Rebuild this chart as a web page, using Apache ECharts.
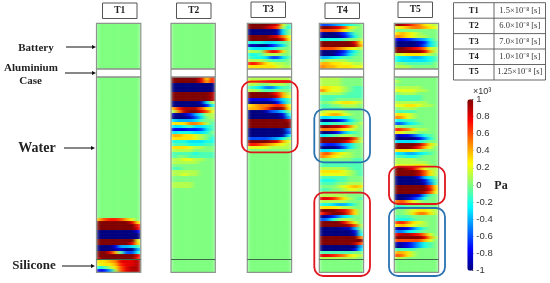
<!DOCTYPE html>
<html><head><meta charset="utf-8">
<style>html,body{margin:0;padding:0;background:#fff}#c{width:550px;height:283px}
canvas[data-zr-dom-id="zr_0"]{filter:url(#soft)}
canvas[data-zr-dom-id="zr_1"]{filter:blur(.35px)}</style>
<script src="https://cdn.jsdelivr.net/npm/echarts@6/dist/echarts.min.js"></script></head>
<body>
<svg width="0" height="0" style="position:absolute"><filter id="soft" x="0" y="0" width="100%" height="100%" color-interpolation-filters="sRGB"><feGaussianBlur stdDeviation="2.2 0.7"/></filter></svg>
<div id="c"></div>
<script>
const panelNames=['T1','T2','T3','T4','T5'];
const tableTimes=['1.5×10⁻⁸ [s]','6.0×10⁻⁸ [s]','7.0×10⁻⁸ [s]','1.0×10⁻⁸ [s]','1.25×10⁻⁸ [s]'];
const columns=[0,1,2,3,4,5,6,7];
const rowCount=83;
const gapRows=[15,16,17];
// each entry: row index, then pressure in tenths of 10^3 Pa across the panel
const t1Rows=[
[65,4,6,7,7,6,4,2,0],[66,10,10,10,10,10,10,8,3],[67,10,10,10,10,10,10,10,7],[68,10,10,10,10,10,10,10,8],
[69,-10,-10,-10,-10,-10,-10,-10,-8],[70,-10,-10,-10,-10,-10,-10,-10,-10],[71,-10,-10,-10,-10,-10,-10,-10,-10],
[72,10,10,10,10,10,10,10,2],[73,10,10,10,10,10,10,8,3],[74,-10,-10,-10,-8,-4,-4,-3,-1],[75,-10,-10,-10,-9,-8,-10,-10,-4],
[76,10,10,8,4,-1,-6,-6,-2],[77,10,10,10,10,10,10,10,8],[78,9,10,10,10,10,10,10,7],
[79,3,3,4,5,8,8,8,9],[80,2,3,3,4,7,8,8,9],[81,-2,-1,1,3,6,8,9,9],[82,-8,-7,-4,1,6,8,9,9]];
const t2Rows=[
[18,10,10,10,10,10,8,3,7],[19,10,10,10,10,10,8,4,7],[20,-10,-10,-10,-10,-10,-10,-10,-10],[21,-10,-10,-10,-10,-10,-10,-10,-10],[22,-10,-10,-10,-10,-10,-10,-10,-10],
[23,10,10,10,10,10,10,10,9],[24,10,10,10,10,10,10,10,9],[25,10,10,10,10,10,10,10,9],[26,-10,-10,-10,-10,-10,-9,-3,1],[27,-10,-10,-10,-10,-10,-10,-7,-2],
[28,4,7,9,9,9,6,3,1],[29,1,5,9,10,10,8,6,2],[30,-9,-10,-9,-7,-4,-2,1,1],[31,-10,-10,-10,-9,-6,-3,0,1],[32,-3,-4,-4,-4,-3,-1,0,0],
[33,3,3,3,5,5,4,1,-1],[34,-3,-3,-2,-1,-3,-3,-2,-1],[35,-8,-8,-8,-7,-7,-6,-3,-1],[36,-3,-2,-2,-2,-3,-3,-2,0],[37,4,4,3,3,2,1,0,-1],[38,3,3,3,3,2,1,0,-2],
[39,-2,-2,-2,-3,-3,-3,-2,-2],[40,-1,-1,-1,-2,-2,-2,-1,-1],[41,3,3,3,2,1,1,0,0],[42,1,1,1,1,0,0,0,0],[43,-1,-1,-1,-1,-2,-1,-1,-1],[44,-1,0,0,-1,-1,-1,-1,-1],
[45,1,1,2,2,1,1,0,0],[46,1,1,1,1,1,0,0,0],[48,-1,-1,0,0,0,0,0,0],[49,1,1,1,1,1,0,0,0],[50,1,1,2,1,1,0,0,0],[53,1,1,1,1,0,0,0,0],[54,1,1,1,1,0,0,0,0]];
const t3Rows=[
[0,10,10,10,10,9,8,2,-1],[1,10,10,10,9,8,6,1,-2],[2,-10,-10,-10,-10,-10,-9,-3,0],[3,-10,-10,-10,-10,-10,-9,-3,0],[4,10,10,10,10,9,8,5,2],[5,10,10,10,10,10,10,8,3],
[6,-2,-2,-2,-3,-3,-2,-1,0],[7,-9,-9,-10,-10,-7,-5,-3,0],[8,-2,-3,-3,-3,-2,-1,0,0],[9,1,1,0,5,8,7,3,0],[10,-2,-2,-1,1,1,1,0,0],[11,-1,-2,-2,-3,-6,-6,-3,-1],
[12,1,1,1,0,-1,-1,-1,0],[13,7,7,5,3,2,1,1,0],[14,3,3,3,3,3,2,1,1],
[18,1,1,1,1,1,1,1,1],[19,4,4,5,6,7,7,7,7],[20,1,1,0,0,1,1,1,0],[21,-1,-2,-3,-5,-5,-3,-1,-1],[22,1,1,0,-1,-1,0,0,0],[23,10,10,10,10,9,7,4,1],[24,10,10,10,10,10,8,4,2],
[25,-8,-8,-8,-8,-7,-5,-3,-1],[26,-10,-10,-10,-10,-10,-8,-4,-1],[27,3,4,5,5,6,7,6,2],[28,4,4,5,6,9,10,9,3],[29,-10,-10,-10,-9,-6,-5,-3,0],[30,-10,-10,-10,-10,-10,-10,-8,-2],
[31,-10,-10,-10,-10,-10,-10,-9,-4],[32,10,10,10,10,10,10,10,9],[33,10,10,10,10,10,10,10,10],[34,10,10,10,10,10,10,10,10],[35,-10,-10,-10,-10,-10,-10,-10,-5],[36,-10,-10,-10,-10,-10,-10,-10,-6],
[37,-10,-10,-10,-10,-10,-10,-9,-3],[38,-6,-6,-6,-6,-5,-4,-2,0],[39,10,10,10,10,9,8,4,2],[40,7,7,6,5,4,3,2,1],[41,2,2,2,2,1,1,1,1]];
const t4Rows=[
[0,-6,-6,-5,-4,-3,-2,-1,0],[1,10,10,9,8,6,3,1,0],[2,6,6,6,5,3,1,0,0],[3,-9,-10,-10,-9,-7,-4,-1,0],[4,-10,-10,-10,-10,-8,-5,-2,0],[5,-2,-2,-2,-2,-1,0,0,1],
[6,10,10,10,10,10,10,8,3],[7,10,10,10,10,10,10,9,4],[8,6,6,6,5,4,3,2,1],[9,-10,-10,-10,-9,-7,-4,-2,0],[10,-10,-10,-10,-8,-6,-3,-1,0],[11,-4,-4,-3,-2,-1,-1,0,0],
[12,0,1,1,1,1,0,0,0],[13,4,4,3,3,2,2,1,1],[14,5,4,4,3,3,3,2,2],
[18,1,1,1,1,0,0,0,0],[19,1,1,1,1,0,0,0,0],[20,1,1,1,1,0,0,0,0],[21,3,3,2,2,1,0,-1,-1],[22,5,3,2,2,1,0,-1,-1],[23,1,1,1,1,0,-1,-1,-1],[24,-1,-1,-1,-1,-1,-1,-1,-1],[25,-1,-1,-1,0,0,0,0,0],
[26,0,0,1,2,3,3,2,1],[27,-1,-1,0,0,1,1,1,0],[28,-1,-1,-1,-1,0,0,0,0],[29,1,2,2,2,1,0,0,0],[30,2,3,4,4,2,1,0,0],[31,-3,-3,-2,-2,-2,-1,0,0],[32,-10,-10,-9,-8,-6,-3,-1,0],[33,-2,-2,-1,-1,-1,-1,0,1],
[34,10,10,9,9,7,5,2,0],[35,5,5,5,4,3,2,1,0],[36,-10,-10,-9,-7,-4,-2,-1,0],[37,-3,-2,-1,0,1,1,0,0],[38,10,10,10,10,10,9,6,1],[39,10,10,10,10,9,7,4,1],
[40,-6,-7,-7,-6,-4,-3,-1,0],[41,-10,-10,-10,-9,-6,-3,-1,0],[42,-3,-3,-2,-2,-1,0,0,0],[43,5,6,4,3,2,1,0,0],[44,5,4,3,2,1,1,0,0],[45,0,0,0,0,0,0,-1,-1],[46,-1,-1,-1,-1,-1,-1,-1,-1],[47,-1,-1,-1,-1,-1,-1,-1,-1],
[48,1,1,1,1,1,0,-1,-1],[49,3,3,3,3,2,1,0,-1],[50,2,2,2,2,2,1,0,-1],[51,-1,-1,-1,-1,-1,0,0,0],[52,-2,-2,-2,-1,-1,0,0,0],[53,-1,-1,-1,0,0,1,1,1],[54,0,0,0,1,2,3,4,3],[55,-1,-1,0,0,1,2,2,1],
[57,1,1,1,1,1,0,0,0],[58,8,8,7,5,3,1,0,-1],[59,1,1,1,1,1,0,0,0],[60,-2,-2,-3,-4,-4,-3,-1,0],[61,3,3,3,2,1,1,0,0],[62,10,10,10,9,8,6,3,0],[63,7,9,10,10,9,6,3,0],[64,-10,-9,-7,-5,-3,-2,0,0],[65,-6,-5,-2,0,1,1,0,0],
[66,10,10,10,10,8,5,2,0],[67,10,10,10,10,10,9,6,1],[68,-10,-10,-10,-10,-9,-9,-4,0],[69,-10,-10,-10,-10,-10,-10,-8,-1],[70,-10,-10,-10,-10,-10,-10,-9,-2],[71,10,10,10,10,10,10,10,5],[72,10,10,10,10,10,10,10,10],
[73,10,10,10,10,10,10,9,6],[74,-10,-10,-10,-10,-10,-10,-10,-4],[75,-10,-10,-10,-10,-10,-10,-8,-3],[76,-1,-1,-1,-1,-1,-1,0,0],[77,8,8,7,6,5,3,2,1],[78,1,1,1,1,1,1,1,0]];
const t5Rows=[
[0,10,9,8,6,5,3,2,1],[1,2,3,4,5,5,4,3,2],[3,3,4,3,2,1,0,0,0],[4,5,4,3,2,1,1,0,0],[5,-8,-8,-7,-6,-5,-4,-2,0],[6,-10,-10,-10,-10,-9,-7,-3,-1],[7,-10,-10,-10,-10,-9,-6,-3,-1],
[8,10,10,9,8,7,5,2,1],[9,10,10,10,10,10,8,4,1],[10,1,2,3,3,3,2,1,0],[11,-2,-3,-3,-4,-4,-3,-2,-1],[12,-2,-3,-3,-3,-3,-3,-2,-1],[13,0,0,-1,-1,-1,-1,-1,0],[14,1,1,1,0,0,0,0,0],
[19,1,0,0,0,0,0,0,0],[21,1,1,1,1,1,0,0,0],[22,2,2,2,2,1,1,0,0],[23,0,1,1,1,0,0,0,0],[24,-1,-1,-1,-1,-1,0,0,0],[25,-1,-1,-1,-1,-1,0,0,0],[26,1,1,1,1,1,1,0,0],[27,2,2,3,3,2,1,1,0],[28,0,1,1,1,0,0,0,0],
[29,-1,-1,-1,-1,0,0,0,0],[30,3,3,2,1,0,0,0,0],[31,5,4,2,1,0,0,0,0],[32,-2,-2,-1,-1,0,0,0,0],[33,-6,-5,-3,-2,-1,0,0,0],[34,1,0,0,0,0,0,0,0],[35,7,6,5,3,1,1,0,0],[36,3,2,1,1,0,0,0,0],
[37,-9,-8,-8,-6,-4,-2,-1,0],[38,-10,-10,-10,-10,-8,-5,-2,0],[39,-3,-3,-3,-3,-2,-1,0,0],[40,10,10,10,10,9,6,3,1],[41,10,10,10,9,7,4,2,0],[42,3,3,3,2,1,0,0,0],[43,-3,-3,-4,-4,-3,-2,-1,0],[44,-1,-1,-2,-2,-1,0,0,0],
[45,1,1,1,1,0,0,0,0],[46,1,1,1,1,1,1,0,0],[47,2,2,2,2,3,2,1,0],[48,10,10,9,8,5,2,1,1],[49,10,10,10,10,9,6,3,1],[50,10,10,10,10,9,6,3,1],[51,-10,-10,-10,-10,-8,-4,-2,0],[52,-10,-10,-10,-10,-10,-8,-4,-1],[53,-10,-10,-10,-10,-10,-9,-5,-1],
[54,10,10,10,10,10,10,7,3],[55,10,10,10,10,10,10,8,3],[56,10,10,10,10,10,9,6,2],[57,-10,-10,-10,-9,-8,-4,-1,0],[58,-10,-10,-9,-7,-5,-2,0,0],[59,5,6,4,2,1,0,0,0],[60,-1,-1,0,0,0,0,0,0],[61,-2,-2,-1,-1,-1,0,0,0],
[62,0,0,1,2,3,3,2,1],[63,0,0,1,3,5,5,3,1],[64,-1,-1,-1,0,0,0,0,0],[65,-2,-2,-2,-1,0,0,0,0],[66,6,7,5,3,2,1,0,0],[67,3,4,3,2,1,1,0,0],[68,-9,-9,-8,-5,-3,-1,0,0],[69,-5,-5,-3,-2,-1,0,0,0],[70,8,9,9,8,7,5,2,0],
[71,10,10,10,10,10,8,4,1],[72,6,6,6,6,6,4,2,0],[73,-9,-9,-8,-6,-4,-2,-1,0],[74,-10,-9,-8,-6,-4,-2,-1,0],[75,-1,-1,-1,-1,0,0,0,0],[76,4,4,3,1,0,0,0,0],[77,6,5,3,1,0,0,0,0],[78,1,1,0,0,0,0,0,0]];
const panelRows=[t1Rows,t2Rows,t3Rows,t4Rows,t5Rows];
const jet=['#00007f','#0000ff','#007fff','#00ffff','#7fff7f','#ffff00','#ff7f00','#ff0000','#7f0000'];

const panelLeft=[96.5,171,247.3,319.3,394.3],panelW=44.3,panelTop=23.3,panelH=249;
const serif='"Liberation Serif",serif',sans='"Liberation Sans",sans-serif';
const grid=[],xAxis=[],yAxis=[],series=[],g=[];
const rowsAxis=Array.from({length:rowCount},(_,i)=>i);
panelRows.forEach((rows,p)=>{
  grid.push({left:panelLeft[p],top:panelTop,width:panelW,height:panelH});
  xAxis.push({type:'category',gridIndex:p,data:columns,show:false});
  yAxis.push({type:'category',gridIndex:p,data:rowsAxis,inverse:true,show:false});
  const byRow={};rows.forEach(r=>byRow[r[0]]=r.slice(1));
  const data=[];
  rowsAxis.forEach(r=>{ const src=gapRows.includes(r)?(byRow[14]||null):(byRow[r]||null);
    columns.forEach(c=>data.push([c,r,(src?src[c]:0)/10]));});
  series.push({type:'heatmap',xAxisIndex:p,yAxisIndex:p,data,silent:true,animation:false,progressive:0,zlevel:0});
  const L=panelLeft[p],R=L+panelW;
  // masks that trim the softened field to the panel and open the case gap
  [[L-5,panelTop-4,5,panelH+8],[R,panelTop-4,5,panelH+8],[L,panelTop-4,panelW,4],[L,panelTop+panelH,panelW,4],[L,69,panelW,8]].forEach(m=>
    g.push({type:'rect',shape:{x:m[0],y:m[1],width:m[2],height:m[3]},style:{fill:'#fff'},z:40,zlevel:1}));
  g.push({type:'rect',shape:{x:L,y:panelTop,width:panelW,height:panelH},style:{fill:'none',stroke:'#8c968c',lineWidth:1.2},z:50,zlevel:1});
  g.push({type:'line',shape:{x1:L,y1:69,x2:R,y2:69},style:{stroke:'#8c8c8c',lineWidth:1.5},z:50,zlevel:1});
  g.push({type:'line',shape:{x1:L,y1:77,x2:R,y2:77},style:{stroke:'#8c8c8c',lineWidth:1.5},z:50,zlevel:1});
  g.push({type:'line',shape:{x1:L,y1:259.5,x2:R,y2:259.5},style:{stroke:'#3f6a4a',lineWidth:1},z:50,zlevel:1});
});
// colour bar axis
grid.push({left:467.3,top:99.3,width:6,height:171.4});
xAxis.push({type:'category',gridIndex:5,data:[0],show:false});
yAxis.push({type:'value',gridIndex:5,min:-1,max:1,interval:0.2,position:'right',zlevel:1,
  axisLine:{show:false},splitLine:{show:false},axisTick:{show:true,inside:true,length:1.5,lineStyle:{color:'#444'}},
  axisLabel:{margin:3,fontFamily:sans,fontSize:9.5,color:'#333',formatter:v=>String(+v.toFixed(1))}});

// header boxes
const hb=[[102.5,3],[176.5,3],[251,2],[325,3],[398,2]];
panelNames.forEach((n,i)=>{
  g.push({type:'rect',shape:{x:hb[i][0],y:hb[i][1],width:34.5,height:15.5},style:{fill:'#fff',stroke:'#555',lineWidth:1},z:60,zlevel:1});
  g.push({type:'text',x:hb[i][0]+17.2,y:hb[i][1]+8,style:{text:n,font:'bold 9.5px '+serif,fill:'#222',align:'center',verticalAlign:'middle'},z:61,zlevel:1});
});
// left labels and arrows
[['Battery',36,48,11],['Aluminium',31,68,11],['Case',30.5,81,11],['Water',37,148,14],['Silicone',34,266,13]].forEach(t=>
  g.push({type:'text',x:t[1],y:t[2],style:{text:t[0],font:'bold '+t[3]+'px '+serif,fill:'#222',align:'center',verticalAlign:'middle'},z:61,zlevel:1}));
[[66,47,96],[65,73,96],[64,148,95],[62,266,95]].forEach(a=>{
  g.push({type:'line',shape:{x1:a[0],y1:a[1],x2:a[2]-3,y2:a[1]},style:{stroke:'#111',lineWidth:1},z:61,zlevel:1});
  g.push({type:'polygon',shape:{points:[[a[2],a[1]],[a[2]-4,a[1]-2],[a[2]-4,a[1]+2]]},style:{fill:'#111'},z:61,zlevel:1});
});
// highlight frames
[[241.7,81.7,56,70.6,'#e0141c'],[314.3,109.3,55.7,53,'#2a72b0'],[314.3,192.7,55.7,83.3,'#e0141c'],[389,166.7,56,37.3,'#e0141c'],[389,208,56,68,'#2a72b0']].forEach(r=>
  g.push({type:'rect',shape:{x:r[0],y:r[1],width:r[2],height:r[3],r:9},style:{fill:'none',stroke:r[4],lineWidth:1.8},z:70,zlevel:1}));
// time table
const tx0=453.5,tx1=494,tx2=545.5,ty=[2.7,18.2,33.6,49,64.5,80];
ty.forEach(y=>g.push({type:'line',shape:{x1:tx0,y1:y,x2:tx2,y2:y},style:{stroke:'#555',lineWidth:.9},z:60,zlevel:1}));
[tx0,tx1,tx2].forEach(x=>g.push({type:'line',shape:{x1:x,y1:ty[0],x2:x,y2:ty[5]},style:{stroke:'#555',lineWidth:.9},z:60,zlevel:1}));
panelNames.forEach((n,i)=>{
  const y=(ty[i]+ty[i+1])/2;
  g.push({type:'text',x:(tx0+tx1)/2,y,style:{text:n,font:'bold 8.5px '+serif,fill:'#222',align:'center',verticalAlign:'middle'},z:61,zlevel:1});
  g.push({type:'text',x:(tx1+tx2)/2,y,style:{text:tableTimes[i],font:'8.5px '+serif,fill:'#333',align:'center',verticalAlign:'middle'},z:61,zlevel:1});
});
// colour bar captions
g.push({type:'text',x:473,y:92,style:{text:'×10³',font:'9px '+sans,fill:'#333',align:'left',verticalAlign:'middle'},z:61,zlevel:1});
g.push({type:'text',x:501,y:186,style:{text:'Pa',font:'bold 12px '+serif,fill:'#222',align:'center',verticalAlign:'middle'},z:61,zlevel:1});

const chart=echarts.init(document.getElementById('c'),null,{renderer:'canvas'});
chart.setOption({animation:false,backgroundColor:'#fff',grid,xAxis,yAxis,series,
  visualMap:{type:'continuous',min:-1,max:1,dimension:2,seriesIndex:[0,1,2,3,4],inRange:{color:jet},zlevel:1,
    left:467.3,top:99.3,itemWidth:6,itemHeight:171.4,padding:0,calculable:false,hoverLink:false,realtime:false,text:null,show:true,textStyle:{fontSize:0}},
  graphic:{elements:g}});
</script></body></html>
